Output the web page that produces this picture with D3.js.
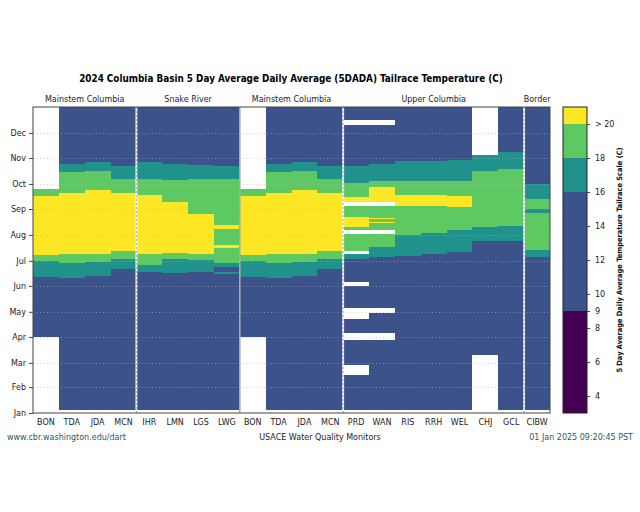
<!DOCTYPE html>
<html>
<head>
<meta charset="utf-8">
<script src="https://cdn.jsdelivr.net/npm/d3@7"></script>
<style>
  html, body { margin: 0; padding: 0; background: #fff; }
  svg { display: block; font-family: "DejaVu Sans", sans-serif; }
</style>
</head>
<body>
<svg id="chart" width="640" height="512"></svg>
<script>
// ---------------- data ----------------
const stations = ["BON","TDA","JDA","MCN","IHR","LMN","LGS","LWG","BON","TDA","JDA","MCN","PRD","WAN","RIS","RRH","WEL","CHJ","GCL","CIBW"];
const groupNames = ["Mainstem Columbia","Snake River","Mainstem Columbia","Upper Columbia","Border"];
const groupSizes = [4, 4, 4, 7, 1];
const separatorStyles = ["dashed","solid","dashed","dashed"];

// each station: [start date (MM-DD), representative 5DADA temperature (C) | null for no data]; last entry marks end
const BON  = [["04-01",12],["06-12",17],["07-01",19],["07-08",21],["09-16",19],["09-25",null]];
const TDA  = [["01-05",12],["06-11",17],["06-29",19],["07-09",21],["09-20",19],["10-15",17],["10-25",12],["end",null]];
const JDA  = [["01-05",12],["06-13",17],["06-30",19],["07-09",21],["09-24",19],["10-17",17],["10-27",12],["end",null]];
const MCN  = [["01-05",12],["06-21",17],["07-03",19],["07-13",21],["09-20",19],["10-07",17],["10-22",12],["end",null]];
const IHR  = [["01-05",12],["06-18",17],["06-26",19],["07-09",21],["09-18",19],["10-07",17],["10-27",12],["end",null]];
const LMN  = [["01-05",12],["06-17",17],["07-03",19],["07-10",21],["09-09",19],["10-06",17],["10-25",12],["end",null]];
const LGS  = [["01-05",12],["06-18",17],["07-02",19],["07-09",21],["08-26",19],["10-07",17],["10-24",12],["end",null]];
const LWG  = [["01-05",12],["06-15",17],["06-18",12],["06-24",17],["06-28",19],["07-16",21],["07-20",19],["08-08",21],["08-13",19],["10-07",17],["10-23",12],["end",null]];
const PRD  = [["01-05",12],["02-16",null],["02-28",12],["03-28",null],["04-06",12],["04-23",null],["05-05",12],["06-01",null],["06-06",12],["07-03",17],["07-09",null],["07-13",19],["08-02",null],["08-07",19],["08-11",21],["08-23",19],["09-04",null],["09-09",21],["09-15",19],["10-02",17],["10-23",12],["12-11",null],["12-17",12],["end",null]];
const WAN  = [["01-05",12],["03-28",null],["04-06",12],["04-30",null],["05-05",12],["07-05",17],["07-17",19],["08-02",null],["08-07",19],["08-15",21],["08-16",19],["08-20",21],["08-21",19],["09-04",null],["09-09",21],["09-27",19],["10-05",17],["10-25",12],["12-11",null],["12-17",12],["end",null]];
const RIS  = [["01-05",12],["07-07",17],["08-01",19],["09-04",21],["09-18",19],["10-05",17],["10-28",12],["end",null]];
const RRH  = [["01-05",12],["07-09",17],["08-03",19],["09-04",21],["09-18",19],["10-05",17],["10-28",12],["end",null]];
const WEL  = [["01-05",12],["07-12",17],["08-07",19],["09-03",21],["09-17",19],["10-05",17],["10-30",12],["end",null]];
const CHJ  = [["03-10",12],["07-25",17],["08-10",19],["10-17",17],["11-05",null]];
const GCL  = [["01-05",12],["07-25",17],["08-12",19],["10-19",17],["11-08",12],["end",null]];
const CIBW = [["01-04",12],["07-05",17],["07-14",19],["08-27",17],["09-01",19],["09-13",17],["10-01",12],["end",null]];

const stationSeries = [BON,TDA,JDA,MCN,IHR,LMN,LGS,LWG,BON,TDA,JDA,MCN,PRD,WAN,RIS,RRH,WEL,CHJ,GCL,CIBW];

const levelBreaks = [9, 16, 18, 20];
const levelColors = ["#440154","#3b528b","#21918c","#5ec962","#fde725"];
const colorbarTicks = [4, 6, 8, 9, 10, 12, 14, 16, 18, 20];
const colorbarRange = [3, 21];

const titleText = "2024 Columbia Basin 5 Day Average Daily Average (5DADA) Tailrace Temperature (C)";
const xAxisTitle = "USACE Water Quality Monitors";
const cbarTitle = "5 Day Average Daily Average Temperature Tailrace Scale (C)";
const footLeft = "www.cbr.washington.edu/dart";
const footRight = "01 Jan 2025 09:20:45 PST";

// ---------------- drawing ----------------
const svg = d3.select("#chart");
const M = { left: 33, right: 550, top: 107, bottom: 413 };
const condensed = "'DejaVu Sans Condensed', 'DejaVu Sans', sans-serif";

const parseDay = s => s === "end" ? new Date(2025, 0, 1) : d3.timeParse("%Y-%m-%d")("2024-" + s);

const x = d3.scaleBand().domain(d3.range(stations.length)).range([M.left, M.right]).padding(0);
const y = d3.scaleTime().domain([new Date(2024,0,1), new Date(2025,0,1)]).range([M.bottom, M.top]);
const color = d3.scaleThreshold().domain(levelBreaks).range(levelColors);

svg.append("rect").attr("width", 640).attr("height", 512).attr("fill", "#fff");

// cells
const cells = [];
stationSeries.forEach((ser, i) => {
  for (let k = 0; k < ser.length - 1; k++) {
    if (ser[k][1] === null) continue;
    cells.push({ col: i, start: parseDay(ser[k][0]), end: parseDay(ser[k+1][0]), v: ser[k][1] });
  }
});
svg.append("g").selectAll("rect").data(cells).join("rect")
  .attr("x", d => x(d.col))
  .attr("width", x.bandwidth())
  .attr("y", d => y(d.end))
  .attr("height", d => y(d.start) - y(d.end))
  .attr("fill", d => color(d.v))
  .attr("shape-rendering", "crispEdges");

// grid
const monthTicks = d3.timeMonth.range(new Date(2024,0,1), new Date(2025,0,1));
svg.append("g").selectAll("line").data(monthTicks.slice(1)).join("line")
  .attr("x1", M.left).attr("x2", M.right)
  .attr("y1", d => Math.round(y(d)) + 0.5).attr("y2", d => Math.round(y(d)) + 0.5)
  .attr("stroke", "#b0b0b0").attr("stroke-opacity", 0.6)
  .attr("stroke-dasharray", "1,2.5");

// separators
let acc = 0;
groupSizes.slice(0, -1).forEach((n, gi) => {
  acc += n;
  const xs = x(acc);
  if (separatorStyles[gi] === "solid") {
    svg.append("line").attr("x1", xs).attr("x2", xs).attr("y1", M.top).attr("y2", M.bottom)
      .attr("stroke", "#aaaaaa").attr("stroke-width", 1.6);
  } else {
    svg.append("line").attr("x1", xs).attr("x2", xs).attr("y1", M.top).attr("y2", M.bottom)
      .attr("stroke", "#ffffff").attr("stroke-width", 1.8);
    svg.append("line").attr("x1", xs).attr("x2", xs).attr("y1", M.top).attr("y2", M.bottom)
      .attr("stroke", "#b8b8b8").attr("stroke-width", 1.2).attr("stroke-dasharray", "2,2");
  }
});

// frame
svg.append("rect").attr("x", M.left).attr("y", M.top)
  .attr("width", M.right - M.left).attr("height", M.bottom - M.top)
  .attr("fill", "none").attr("stroke", "#444").attr("stroke-width", 1);

// y axis
const yAxis = d3.axisLeft(y).tickValues(monthTicks).tickFormat(d3.timeFormat("%b")).tickSize(4).tickPadding(3);
const gy = svg.append("g").attr("transform", `translate(${M.left},0)`).call(yAxis);
gy.select(".domain").remove();
gy.selectAll("text").attr("font-size", 8).attr("fill", "#222").attr("font-family", "DejaVu Sans");
gy.selectAll("line").attr("stroke", "#444");

// x axis labels
const xAxis = d3.axisBottom(x).tickFormat(i => stations[i]).tickSize(0).tickPadding(6);
const gx = svg.append("g").attr("transform", `translate(0,${M.bottom})`).call(xAxis);
gx.select(".domain").remove();
gx.selectAll("text").attr("font-size", 8).attr("fill", "#222").attr("font-family", "DejaVu Sans");

// group labels
acc = 0;
groupNames.forEach((g, gi) => {
  const a = acc, b = acc + groupSizes[gi];
  acc = b;
  const cx = (x(a) + x(b - 1) + x.bandwidth()) / 2;
  svg.append("text").attr("x", cx).attr("y", 102).attr("text-anchor", "middle")
    .attr("font-size", 8).attr("fill", "#222").text(g);
});

// title
svg.append("text").attr("x", 291).attr("y", 82).attr("text-anchor", "middle")
  .attr("font-family", condensed).attr("font-stretch", "condensed")
  .attr("font-size", 9.85).attr("font-weight", "bold").attr("fill", "#000").text(titleText);

// footer
svg.append("text").attr("x", 7).attr("y", 440).attr("font-size", 8).attr("fill", "#1f5a6e").text(footLeft);
svg.append("text").attr("x", 320).attr("y", 440).attr("text-anchor", "middle").attr("font-size", 8).attr("fill", "#222").text(xAxisTitle);
svg.append("text").attr("x", 633).attr("y", 440).attr("text-anchor", "end").attr("font-size", 8).attr("fill", "#1f5a6e").text(footRight);

// colorbar
const cb = { x: 563, w: 24 };
const cy = d3.scaleLinear().domain(colorbarRange).range([M.bottom, M.top]);
const cbEdges = [colorbarRange[0], ...levelBreaks, colorbarRange[1]];
svg.append("g").selectAll("rect").data(d3.range(levelColors.length)).join("rect")
  .attr("x", cb.x).attr("width", cb.w)
  .attr("y", i => cy(cbEdges[i + 1])).attr("height", i => cy(cbEdges[i]) - cy(cbEdges[i + 1]))
  .attr("fill", i => levelColors[i]).attr("shape-rendering", "crispEdges");
svg.append("rect").attr("x", cb.x).attr("y", M.top).attr("width", cb.w).attr("height", M.bottom - M.top)
  .attr("fill", "none").attr("stroke", "#222").attr("stroke-width", 1);
const cAxis = d3.axisRight(cy).tickValues(colorbarTicks).tickFormat(v => v === 20 ? "> 20" : v).tickSize(3).tickPadding(5);
const gc = svg.append("g").attr("transform", `translate(${cb.x + cb.w},0)`).call(cAxis);
gc.select(".domain").remove();
gc.selectAll("text").attr("font-size", 8).attr("fill", "#222").attr("font-family", "DejaVu Sans");
gc.selectAll("line").attr("stroke", "#444");
svg.append("text").attr("transform", `translate(622,${(M.top + M.bottom) / 2}) rotate(-90)`)
  .attr("text-anchor", "middle").attr("font-family", condensed).attr("font-stretch", "condensed")
  .attr("font-size", 7.4).attr("font-weight", "bold").attr("fill", "#111").text(cbarTitle);
</script>
</body>
</html>
